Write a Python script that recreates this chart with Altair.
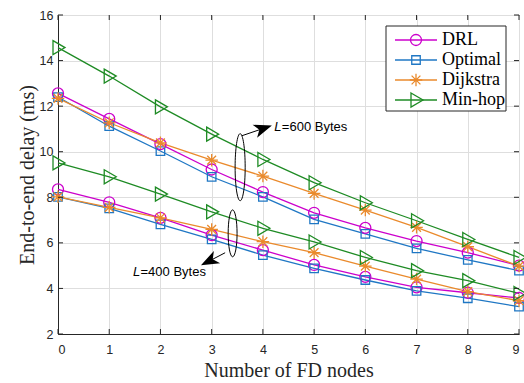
import altair as alt
import pandas as pd

# ---------------- data ----------------
fd_nodes = [0, 1, 2, 3, 4, 5, 6, 7, 8, 9]
series_names = ["DRL", "Optimal", "Dijkstra", "Min-hop"]

drl_600 = [12.56, 11.44, 10.33, 9.22, 8.23, 7.32, 6.66, 6.08, 5.57, 5.00]
opt_600 = [12.40, 11.12, 10.03, 8.90, 8.02, 7.03, 6.39, 5.76, 5.25, 4.78]
dij_600 = [12.34, 11.27, 10.39, 9.63, 8.93, 8.17, 7.44, 6.68, 5.83, 4.98]
min_600 = [14.57, 13.32, 11.97, 10.77, 9.66, 8.64, 7.76, 6.97, 6.15, 5.36]

drl_400 = [8.35, 7.78, 7.10, 6.34, 5.68, 5.03, 4.51, 4.05, 3.81, 3.58]
opt_400 = [8.02, 7.51, 6.81, 6.15, 5.46, 4.88, 4.37, 3.89, 3.57, 3.20]
dij_400 = [8.02, 7.56, 7.10, 6.59, 6.05, 5.57, 4.98, 4.41, 3.86, 3.46]
min_400 = [9.51, 8.90, 8.14, 7.36, 6.64, 6.04, 5.36, 4.78, 4.34, 3.78]

x_ticks = fd_nodes
y_ticks = [2, 4, 6, 8, 10, 12, 14, 16]

# annotation anchors (data coordinates)
ann_labels = ["=600 Bytes", "=400 Bytes"]
ann_text_x = [4.224, 1.464]
ann_text_y = [11.08, 4.73]
ell_x = [3.556, 3.409]
ell_y = [9.32, 6.417]
arrow_x1 = [3.589, 3.263]
arrow_y1 = [10.70, 5.566]
arrow_x2 = [3.980, 2.975]
arrow_y2 = [11.00, 5.228]
arrow_angle = [71, 243]

# ---------------- styles ----------------
colors = ["#CC00CC", "#1F77C4", "#EA8A2C", "#1E8B24"]
# marker outlines (1 unit = 5 px at size 100)
shape_paths = [
    "M1.1,0A1.1,1.1 0 1,1 -1.1,0A1.1,1.1 0 1,1 1.1,0Z",                       # circle
    "M-0.85,-0.85L0.85,-0.85L0.85,0.85L-0.85,0.85Z",                          # square
    "M0,-1.25L0,1.25M-1.25,0L1.25,0M-0.88,-0.88L0.88,0.88M-0.88,0.88L0.88,-0.88",  # asterisk
    "M-1,-1.4L1.4,0L-1,1.4Z",                                                 # triangle right
]
TXT = "#262626"
W, H = 461, 319

rows = []
for name, v600, v400 in zip(series_names,
                            [drl_600, opt_600, dij_600, min_600],
                            [drl_400, opt_400, dij_400, min_400]):
    for xv, yv in zip(fd_nodes, v600):
        rows.append({"x": xv, "delay": yv, "series": name, "grp": name + "600"})
    for xv, yv in zip(fd_nodes, v400):
        rows.append({"x": xv, "delay": yv, "series": name, "grp": name + "400"})
df = pd.DataFrame(rows)

xscale = alt.Scale(domain=[0, 9], nice=False, zero=False)
yscale = alt.Scale(domain=[2, 16], nice=False, zero=False)
cscale = alt.Scale(domain=series_names, range=colors)
sscale = alt.Scale(domain=series_names, range=shape_paths)

xenc = alt.X("x:Q", scale=xscale,
             axis=alt.Axis(values=x_ticks, format="d", title="Number of FD nodes",
                           titleY=42, titleBaseline="alphabetic"))
yenc = alt.Y("delay:Q", scale=yscale,
             axis=alt.Axis(values=y_ticks, format="d", title="End-to-end delay (ms)",
                           titleX=-25, titleBaseline="alphabetic", titleAngle=-90))

base = alt.Chart(df)
lines = base.mark_line(strokeWidth=1.3).encode(
    x=xenc, y=yenc,
    color=alt.Color("series:N", scale=cscale, legend=None),
    detail="grp:N",
)
points = base.mark_point(filled=False, strokeWidth=1.3, opacity=1, size=100).encode(
    x="x:Q", y="delay:Q",
    color=alt.Color("series:N", scale=cscale, legend=None),
    shape=alt.Shape("series:N", scale=sscale, legend=None),
)

ann_df = pd.DataFrame({
    "label": ann_labels, "tx": ann_text_x, "ty": ann_text_y,
    "ex": ell_x, "ey": ell_y,
    "ax1": arrow_x1, "ay1": arrow_y1, "ax2": arrow_x2, "ay2": arrow_y2,
    "ang": arrow_angle,
})
ann = alt.Chart(ann_df)
txt_L = ann.mark_text(align="left", baseline="middle", font="Liberation Sans",
                      fontSize=13, fontStyle="italic", color="black").encode(
    x="tx:Q", y="ty:Q", text=alt.value("L"))
txt_rest = ann.mark_text(align="left", baseline="middle", font="Liberation Sans",
                         fontSize=13, color="black", dx=7.5).encode(
    x="tx:Q", y="ty:Q", text="label:N")
arrow_line = ann.mark_rule(color="black", strokeWidth=1).encode(
    x="ax1:Q", y="ay1:Q", x2="ax2:Q", y2="ay2:Q")
arrow_head = ann.mark_point(shape="M0,-1L0.65,0.7L0,0.25L-0.65,0.7Z", filled=True,
                            color="black", size=450, opacity=1).encode(
    x="ax2:Q", y="ay2:Q", angle=alt.Angle("ang:Q", scale=None))
ell600 = alt.Chart(ann_df.iloc[[0]]).mark_point(
    shape="M0,-1A0.15,1 0 1,1 0,1A0.15,1 0 1,1 0,-1Z",
    filled=False, color="black", strokeWidth=1, size=4500, opacity=1).encode(
    x="ex:Q", y="ey:Q")
ell400 = alt.Chart(ann_df.iloc[[1]]).mark_point(
    shape="M0,-1A0.19,1 0 1,1 0,1A0.19,1 0 1,1 0,-1Z",
    filled=False, color="black", strokeWidth=1, size=2200, opacity=1).encode(
    x="ex:Q", y="ey:Q")

# inner tick marks (MATLAB style)
yt_df = pd.DataFrame({"v": y_ticks})
xt_df = pd.DataFrame({"v": x_ticks})
ytick_l = alt.Chart(yt_df).mark_rule(color=TXT, strokeWidth=1).encode(
    y="v:Q", x=alt.value(0), x2=alt.value(5))
ytick_r = alt.Chart(yt_df).mark_rule(color=TXT, strokeWidth=1).encode(
    y="v:Q", x=alt.value(W - 5), x2=alt.value(W))
xtick_b = alt.Chart(xt_df).mark_rule(color=TXT, strokeWidth=1).encode(
    x="v:Q", y=alt.value(H - 5), y2=alt.value(H))
xtick_t = alt.Chart(xt_df).mark_rule(color=TXT, strokeWidth=1).encode(
    x="v:Q", y=alt.value(0), y2=alt.value(5))

main = alt.layer(lines, points, ell600, ell400, arrow_line, arrow_head,
                 txt_L, txt_rest, ytick_l, ytick_r, xtick_b, xtick_t)

# ---------------- manual legend ----------------
leg_df = pd.DataFrame({"series": series_names})
leg_y = alt.Y("series:N", scale=alt.Scale(type="point", domain=series_names,
                                          range=[25, 85], padding=0), axis=None)
leg_box = alt.Chart(pd.DataFrame({"a": [0]})).mark_rect(
    fill="white", stroke=TXT, strokeWidth=1).encode(
    x=alt.value(328), x2=alt.value(448), y=alt.value(11), y2=alt.value(96))
leg_line = alt.Chart(leg_df).mark_rule(strokeWidth=1.3).encode(
    y=leg_y, x=alt.value(337), x2=alt.value(379),
    color=alt.Color("series:N", scale=cscale, legend=None))
leg_pt = alt.Chart(leg_df).mark_point(filled=False, strokeWidth=1.3, opacity=1,
                                      size=100).encode(
    y=leg_y, x=alt.value(358),
    color=alt.Color("series:N", scale=cscale, legend=None),
    shape=alt.Shape("series:N", scale=sscale, legend=None))
leg_txt = alt.Chart(leg_df).mark_text(align="left", baseline="middle",
                                      font="Liberation Serif", fontSize=18,
                                      color="black").encode(
    y=leg_y, x=alt.value(384), text="series:N")
legend = alt.layer(leg_box, leg_line, leg_pt, leg_txt)

chart = alt.layer(main, legend).resolve_scale(y="independent").properties(
    width=W, height=H,
    autosize=alt.AutoSizeParams(type="none"),
    padding={"left": 58, "top": 15, "right": 5, "bottom": 49},
    background="white",
).configure_view(stroke=TXT, strokeWidth=1).configure_axis(
    grid=True, gridColor="#dedede", gridWidth=1,
    domain=True, domainColor=TXT, domainWidth=1,
    ticks=False,
    labelFont="Liberation Sans", labelFontSize=12.5, labelColor=TXT,
    titleFont="Liberation Serif", titleFontSize=20, titleFontWeight="normal",
    titleColor=TXT,
).configure_axisX(labelPadding=9).configure_axisY(labelPadding=5)

chart.save("out.html", embed_options={"renderer": "svg", "actions": False})
